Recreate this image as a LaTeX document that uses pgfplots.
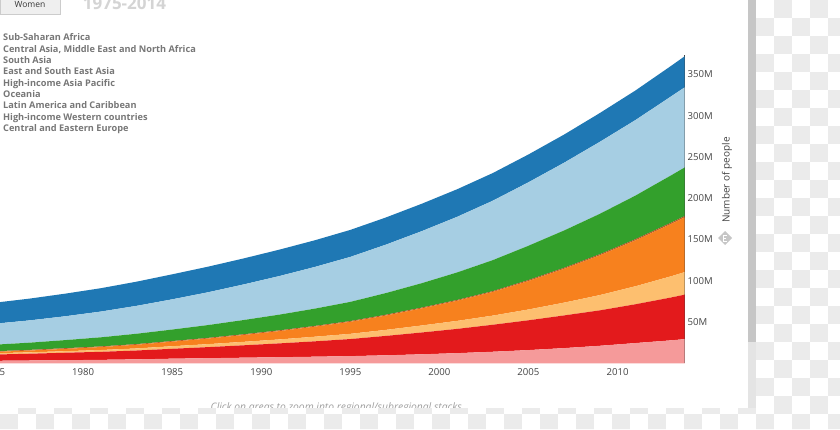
\documentclass[border=0pt]{standalone}
\usepackage{pgfplots}
\pgfplotsset{compat=1.18}
\usepackage{pgfplotstable}
\usepackage{fontspec}
\setmainfont{Open Sans}
\definecolor{cDB}{HTML}{1F78B4}
\definecolor{cLB}{HTML}{A6CEE3}
\definecolor{cGR}{HTML}{33A02C}
\definecolor{cBR}{HTML}{B15928}
\definecolor{cOR}{HTML}{F7811E}
\definecolor{cLO}{HTML}{FDBF6F}
\definecolor{cRD}{HTML}{E31A1C}
\definecolor{cPK}{HTML}{F59A9A}
\definecolor{labelgray}{HTML}{444444}
\definecolor{leggray}{HTML}{777777}
\definecolor{titlegray}{HTML}{D4D4D4}
\definecolor{checkgray}{HTML}{EBEBEB}
\definecolor{scrolldark}{HTML}{C6C6C6}
\definecolor{scrolllight}{HTML}{E4E4E4}
\definecolor{btnfill}{HTML}{EFEFEF}
\definecolor{btnline}{HTML}{CCCCCC}
\definecolor{hintgray}{HTML}{A0A0A0}

\pgfplotstableread{
year pink red lor or br gr lb db
1975 3.0 7.6 1.6 1.6 0.8 7.9 25.4 25.4
1977 3.4 8.2 1.7 2.2 0.8 8.7 27.0 26.4
1979 3.8 9.0 1.9 2.8 0.8 9.8 28.9 27.4
1981 4.2 9.7 2.2 3.6 0.8 11.0 31.2 28.3
1983 4.8 10.7 2.5 4.5 0.8 12.5 33.8 29.3
1985 5.6 12.0 3.1 5.5 0.8 13.9 36.6 30.3
1987 6.2 13.4 3.6 6.8 0.8 15.5 39.7 31.0
1989 6.8 15.0 4.2 8.3 0.9 17.2 43.1 31.5
1991 7.4 16.7 4.8 10.1 0.9 19.0 46.7 32.0
1993 8.0 18.6 5.6 12.2 0.9 20.9 50.5 32.3
1995 8.7 20.7 6.3 14.6 0.9 23.2 54.5 32.7
1997 9.7 23.5 7.3 17.4 1.0 26.2 58.7 32.9
1999 10.9 26.4 8.5 20.7 1.0 29.5 63.0 33.2
2001 12.3 29.4 9.7 24.4 1.0 33.3 67.4 33.4
2003 14.0 32.7 11.1 28.7 1.0 37.5 72.0 33.5
2005 16.0 36.1 13.1 34.5 1.2 41.5 76.9 33.7
2007 18.4 39.6 15.5 41.0 1.2 45.2 82.1 34.1
2009 21.2 42.9 18.5 48.2 1.3 48.9 87.2 34.9
2011 24.5 47.0 21.8 55.6 1.4 52.8 91.5 35.8
2013 27.8 51.9 25.7 63.4 1.5 57.3 95.6 37.0
2014 29.7 54.5 27.8 67.3 1.5 59.3 97.6 37.8
}\datatable

\begin{document}
\begin{tikzpicture}[x=1pt,y=1pt]
\path[use as bounding box] (0,0) rectangle (840,429);
\fill[white] (0,0) rectangle (840,429);

\begin{axis}[
  at={(0pt,65.7pt)}, anchor=south west,
  scale only axis, width=684.5pt, height=308.3pt,
  xmin=1975.33, xmax=2013.76, ymin=0, ymax=373.5,
  stack plots=y,
  axis y line*=right, axis x line*=bottom,
  x axis line style={draw=none},
  y axis line style={draw=labelgray, line width=0.9pt},
  major tick length=0pt,
  xtick={1980,1985,1990,1995,2000,2005,2010},
  xticklabels={1980,1985,1990,1995,2000,2005,2010},
  ytick={50,100,150,200,250,300,350},
  yticklabels={50M,100M,150M,200M,250M,300M,350M},
  tick label style={font=\fontsize{9.6}{11}\selectfont, text=labelgray, inner sep=0pt},
  xticklabel style={anchor=center, yshift=-9pt},
  yticklabel style={anchor=west, xshift=3pt},
]
\addplot[fill=cPK, draw=none] table[x=year,y=pink]{\datatable} \closedcycle;
\addplot[fill=cRD, draw=none] table[x=year,y=red]{\datatable} \closedcycle;
\addplot[fill=cLO, draw=none] table[x=year,y=lor]{\datatable} \closedcycle;
\addplot[fill=cOR, draw=none] table[x=year,y=or]{\datatable} \closedcycle;
\addplot[fill=cBR, draw=none] table[x=year,y=br]{\datatable} \closedcycle;
\addplot[fill=cGR, draw=none] table[x=year,y=gr]{\datatable} \closedcycle;
\addplot[fill=cLB, draw=none] table[x=year,y=lb]{\datatable} \closedcycle;
\addplot[fill=cDB, draw=none] table[x=year,y=db]{\datatable} \closedcycle;
\coordinate (t1975) at (axis cs:1975,0);
\end{axis}

\node[anchor=center, inner sep=0pt, font=\fontsize{9.6}{11}\selectfont, text=labelgray] at ([yshift=-9pt]t1975) {1975};

% y axis title
\node[rotate=90, inner sep=0pt, font=\fontsize{10}{12}\selectfont, text=labelgray] at (727,249) {Number of people};
% small logo diamond
\fill[scrolldark] (718,191)--(725,198)--(732,191)--(725,184)--cycle;
\draw[white, line width=1pt] (723,188)--(723,194)--(727,194) (723,191)--(726,191) (723,188)--(727,188);

% legend-like list
\begin{scope}[font=\fontsize{9.2}{10}\selectfont\bfseries, text=leggray]
\node[anchor=base west, inner sep=0pt] at (3,429-41.0) {Sub-Saharan Africa};
\node[anchor=base west, inner sep=0pt] at (3,429-52.3) {Central Asia, Middle East and North Africa};
\node[anchor=base west, inner sep=0pt] at (3,429-63.7) {South Asia};
\node[anchor=base west, inner sep=0pt] at (3,429-75.0) {East and South East Asia};
\node[anchor=base west, inner sep=0pt] at (3,429-86.3) {High-income Asia Pacific};
\node[anchor=base west, inner sep=0pt] at (3,429-97.7) {Oceania};
\node[anchor=base west, inner sep=0pt] at (3,429-109.0) {Latin America and Caribbean};
\node[anchor=base west, inner sep=0pt] at (3,429-120.3) {High-income Western countries};
\node[anchor=base west, inner sep=0pt] at (3,429-131.7) {Central and Eastern Europe};
\end{scope}

% button and title
\filldraw[fill=btnfill, draw=btnline, line width=0.8pt] (0.4,429-14) rectangle (60,436);
\node[anchor=base, inner sep=0pt, font=\fontsize{8.5}{10}\selectfont, text=labelgray!80!black] at (30,429-7.2) {Women};
\node[anchor=base west, inner sep=0pt, font=\fontsize{17}{20}\selectfont\bfseries, text=titlegray] at (82.7,429-10) {1975-2014};

% hint text
\node[anchor=base, inner sep=0pt, font=\fontsize{10.3}{12}\selectfont\itshape, text=hintgray] at (336.3,429-410) {Click on areas to zoom into regional/subregional stacks};

% scrollbar
\fill[scrolllight] (748,21) rectangle (756,87);
\fill[scrolldark] (748,87) rectangle (756,429);

% checkerboard outside the panel
\begin{scope}
\clip (756,0) rectangle (840,429) (0,0) rectangle (840,21);
\fill[white] (0,0) rectangle (840,429);
\foreach \i in {0,...,46}{
  \foreach \j in {0,...,23}{
    \pgfmathtruncatemacro\k{\i+\j}
    \ifodd\k
      \fill[checkgray] (18*\i,429-18*\j) rectangle ++(18,-18);
    \fi
  }
}
\end{scope}
\end{tikzpicture}
\end{document}
